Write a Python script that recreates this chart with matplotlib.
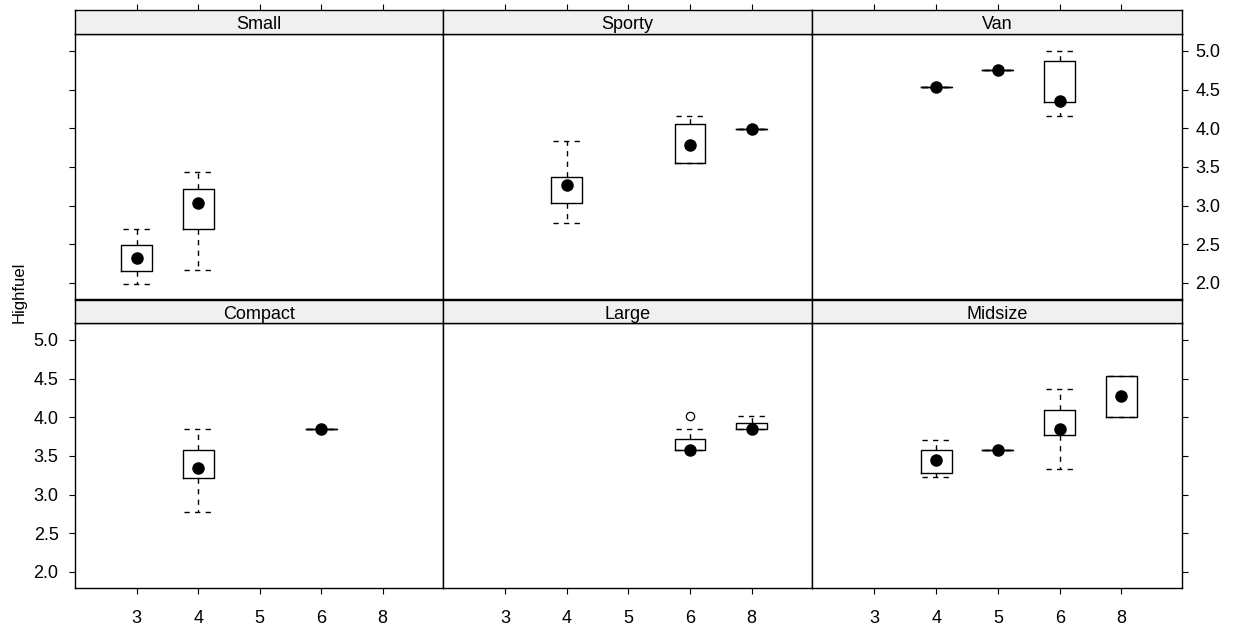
import matplotlib
matplotlib.use("Agg")
import matplotlib.pyplot as plt

plt.rcParams['font.family'] = ['Liberation Sans', 'DejaVu Sans']

# Cylinder levels shown on the x axis
cyl_levels = ['3', '4', '5', '6', '8']

# Panel order (top row first): vehicle type
panel_types = ['Small', 'Sporty', 'Van', 'Compact', 'Large', 'Midsize']

# Per-group box statistics: (cylinders, whisker low, Q1, median, Q3, whisker high)
small_stats = [('3', 1.99, 2.15, 2.32, 2.49, 2.70),
               ('4', 2.17, 2.70, 3.03, 3.21, 3.43)]
sporty_stats = [('4', 2.77, 3.03, 3.27, 3.37, 3.83),
                ('6', 3.55, 3.55, 3.78, 4.06, 4.16),
                ('8', 3.99, 3.99, 3.99, 3.99, 3.99)]
van_stats = [('4', 4.54, 4.54, 4.54, 4.54, 4.54),
             ('5', 4.76, 4.76, 4.76, 4.76, 4.76),
             ('6', 4.16, 4.34, 4.35, 4.87, 5.00)]
compact_stats = [('4', 2.77, 3.22, 3.34, 3.57, 3.85),
                 ('6', 3.85, 3.85, 3.85, 3.85, 3.85)]
large_stats = [('6', 3.57, 3.57, 3.57, 3.72, 3.85),
               ('8', 3.85, 3.85, 3.85, 3.92, 4.01)]
midsize_stats = [('4', 3.23, 3.28, 3.45, 3.57, 3.70),
                 ('5', 3.57, 3.57, 3.57, 3.57, 3.57),
                 ('6', 3.33, 3.77, 3.85, 4.09, 4.36),
                 ('8', 4.00, 4.00, 4.27, 4.54, 4.54)]

# Points beyond the whiskers: (type, cylinders, value)
outliers = [('Large', '6', 4.02)]

y_ticks = [2.0, 2.5, 3.0, 3.5, 4.0, 4.5, 5.0]

stats_by_type = {
    'Small': small_stats, 'Sporty': sporty_stats, 'Van': van_stats,
    'Compact': compact_stats, 'Large': large_stats, 'Midsize': midsize_stats,
}

W, H = 1236, 630
fig = plt.figure(figsize=(W / 100, H / 100), dpi=100)

col_edges = [74.5, 443, 812, 1182]
plot_top = [34, 323]
plot_bot = [299, 588]
strip_top = [10, 299.5]

dash = (0, (3.8, 3.8))
tick_len = 4.5
fs = 13

for i, vtype in enumerate(panel_types):
    r, c = divmod(i, 3)
    x0, x1 = col_edges[c], col_edges[c + 1]
    ax = fig.add_axes([x0 / W, 1 - plot_bot[r] / H, (x1 - x0) / W,
                       (plot_bot[r] - plot_top[r]) / H])
    sax = fig.add_axes([x0 / W, 1 - plot_top[r] / H, (x1 - x0) / W,
                        (plot_top[r] - strip_top[r]) / H])

    rows = stats_by_type[vtype]
    positions = [cyl_levels.index(g[0]) + 1 for g in rows]
    bstats = []
    for g in rows:
        fl = [v for t, cy, v in outliers if t == vtype and cy == g[0]]
        bstats.append(dict(whislo=g[1], q1=g[2], med=g[3], q3=g[4],
                           whishi=g[5], fliers=fl, label=g[0]))
    ax.bxp(bstats, positions=positions, widths=0.5, capwidths=0.45,
           showfliers=True, manage_ticks=False,
           boxprops=dict(color='black', linewidth=1.0),
           whiskerprops=dict(color='black', linewidth=1.0, linestyle=dash),
           capprops=dict(color='black', linewidth=1.0, linestyle=dash),
           medianprops=dict(linewidth=0),
           flierprops=dict(marker='o', markerfacecolor='white',
                           markeredgecolor='black', markersize=6,
                           markeredgewidth=0.9))
    ax.plot(positions, [g[3] for g in rows], 'o', color='black',
            markersize=8, zorder=5)

    ax.set_xlim(-0.01, 5.98)
    ax.set_ylim(1.79, 5.22)
    for sp in ax.spines.values():
        sp.set_linewidth(1.0)

    # x axis: labelled ticks below the bottom row only
    ax.set_xticks(range(1, len(cyl_levels) + 1))
    if r == 1:
        ax.set_xticklabels(cyl_levels)
        ax.tick_params(axis='x', bottom=True, direction='out',
                       length=tick_len, width=0.8, labelsize=fs, pad=11)
    else:
        ax.tick_params(axis='x', bottom=False, labelbottom=False)

    # y axis: alternating sides between rows
    ax.set_yticks(y_ticks)
    ax.set_yticklabels([f'{v:.1f}' for v in y_ticks])
    ax.tick_params(axis='y', left=False, right=False, labelleft=False,
                   labelright=False, direction='out', length=tick_len,
                   width=0.8, labelsize=fs)
    if c == 0:
        ax.tick_params(axis='y', left=True, labelleft=(r == 1), pad=7)
    if c == 2:
        ax.tick_params(axis='y', right=True, labelright=(r == 0), pad=5)

    # strip with the panel title, top ticks above the top row
    sax.set_facecolor('#f0f0f0')
    sax.set_xlim(ax.get_xlim())
    sax.set_ylim(0, 1)
    sax.set_yticks([])
    sax.set_xticks(range(1, len(cyl_levels) + 1))
    sax.tick_params(axis='x', bottom=False, labelbottom=False,
                    top=(r == 0), labeltop=False, direction='out',
                    length=tick_len, width=0.8)
    for sp in sax.spines.values():
        sp.set_linewidth(1.0)
    sax.text(0.5, 0.38, vtype, transform=sax.transAxes, ha='center',
             va='center', fontsize=fs)

fig.text(19 / W, 1 - 292 / H, 'Highfuel', rotation=90, ha='center',
         va='center', fontsize=12)

fig.savefig('out.png', dpi=100)
